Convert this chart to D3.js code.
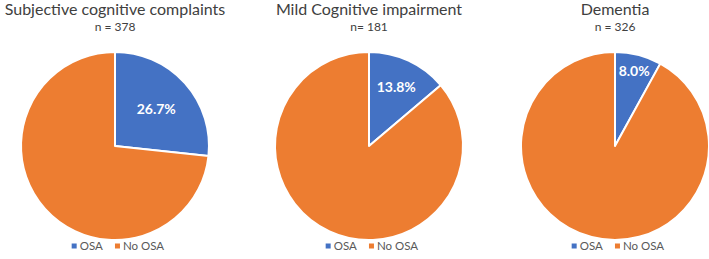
<!DOCTYPE html>
<html>
<head>
<meta charset="utf-8">
<script src="https://cdn.jsdelivr.net/npm/d3@7"></script>
<style>
  body { margin: 0; background: #fff; }
  text { font-family: Lato, "Open Sans", sans-serif; }
</style>
</head>
<body>
<svg id="chart" width="709" height="259"></svg>
<script>
// chart data
const panelTitles = ["Subjective cognitive complaints", "Mild Cognitive impairment", "Dementia"];
const sampleLabels = ["n = 378", "n= 181", "n = 326"];
const categories = ["OSA", "No OSA"];
const osaPct = [26.7, 13.8, 8.0];
const noOsaPct = [73.3, 86.2, 92.0];

// layout
const CENTER_X = [115, 369, 615];
const CENTER_Y = 146;
const RADIUS = 94;
const LABEL_R = [0.59, 0.69, 0.82]; // excel "best fit" label spots
const COLORS = { OSA: "#4472C4", "No OSA": "#ED7D31" };

const svg = d3.select("#chart");

const color = d3.scaleOrdinal().domain(categories).range([COLORS.OSA, COLORS["No OSA"]]);

const pie = d3.pie().sort(null).value((d) => d.value);
const arc = d3.arc().innerRadius(0).outerRadius(RADIUS);

panelTitles.forEach((title, i) => {
  const cx = CENTER_X[i];
  const values = [
    { key: categories[0], value: osaPct[i] },
    { key: categories[1], value: noOsaPct[i] },
  ];

  // title + n
  svg.append("text")
    .attr("x", cx)
    .attr("y", 15)
    .attr("text-anchor", "middle")
    .attr("font-size", 16)
    .attr("fill", "#404040")
    .text(title);

  svg.append("text")
    .attr("x", cx)
    .attr("y", 31)
    .attr("text-anchor", "middle")
    .attr("font-size", 12)
    .attr("fill", "#404040")
    .text(sampleLabels[i]);

  const g = svg.append("g").attr("transform", `translate(${cx},${CENTER_Y})`);
  const arcs = pie(values);

  g.selectAll("path")
    .data(arcs)
    .enter()
    .append("path")
    .attr("d", arc)
    .attr("fill", (d) => color(d.data.key))
    .attr("stroke", "#fff")
    .attr("stroke-width", 2)
    .attr("stroke-linejoin", "round");

  // percentage label on the OSA slice
  const lab = d3.arc().innerRadius(RADIUS * LABEL_R[i]).outerRadius(RADIUS * LABEL_R[i]);
  g.append("text")
    .attr("transform", `translate(${lab.centroid(arcs[0])})`)
    .attr("text-anchor", "middle")
    .attr("dy", "0.35em")
    .attr("font-size", 14)
    .attr("font-weight", "bold")
    .attr("fill", "#fff")
    .text(`${osaPct[i].toFixed(1)}%`);

  // legend
  const leg = svg.append("g").attr("transform", `translate(${cx + 3},246)`);
  const items = leg.selectAll("g")
    .data(categories)
    .enter()
    .append("g");
  items.append("rect")
    .attr("width", 5)
    .attr("height", 5)
    .attr("y", -2.5)
    .attr("fill", (d) => color(d));
  items.append("text")
    .attr("x", 8)
    .attr("dy", "0.35em")
    .attr("font-size", 11.5)
    .attr("fill", "#595959")
    .text((d) => d);

  // place items side by side, then center the row
  const widths = [];
  items.each(function () { widths.push(this.getBBox().width); });
  const total = d3.sum(widths) + 12 * (widths.length - 1);
  let x = -total / 2;
  items.attr("transform", (d, j) => {
    const t = `translate(${x},0)`;
    x += widths[j] + 12;
    return t;
  });
});
</script>
</body>
</html>
